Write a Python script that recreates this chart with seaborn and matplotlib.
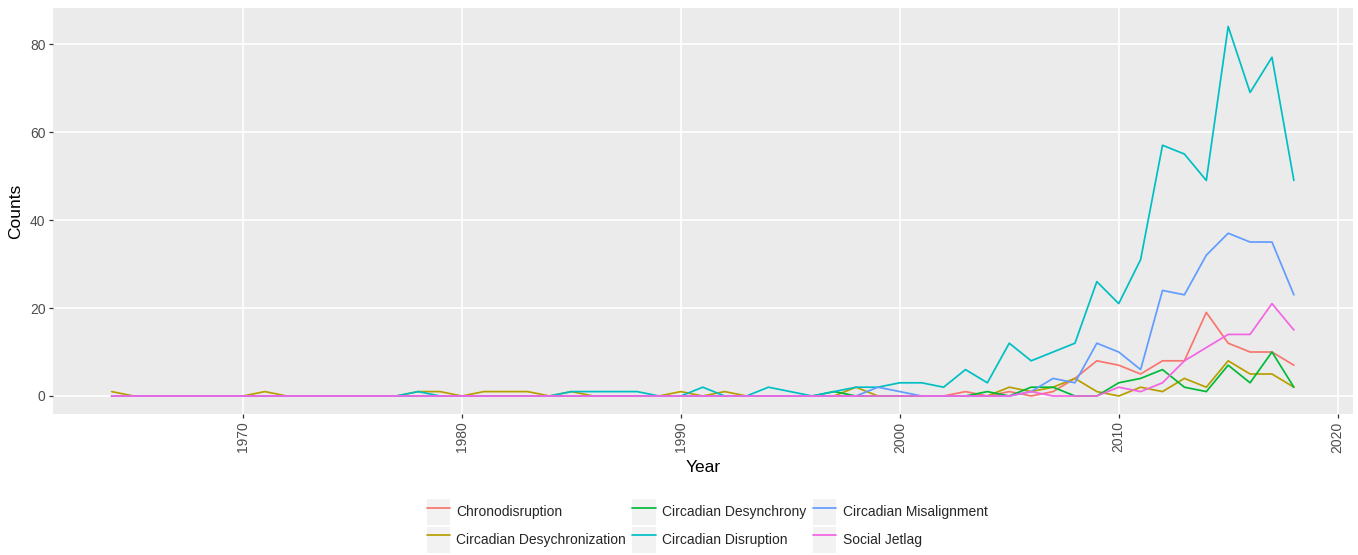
import matplotlib
matplotlib.use('Agg')
import matplotlib.pyplot as plt
from matplotlib.legend_handler import HandlerLine2D
from matplotlib.lines import Line2D
from matplotlib.patches import Rectangle
import pandas as pd
import seaborn as sns

# donnees (1964 -> 2018)
years = list(range(1964, 2019))

chronodisruption = [0, 0, 0, 0, 0, 0,
                    0, 0, 0, 0, 0, 0, 0, 0, 0, 0,
                    0, 0, 0, 0, 0, 0, 0, 0, 0, 0,
                    0, 0, 0, 0, 0, 0, 0, 0, 0, 0,
                    0, 0, 0, 1, 0, 1, 0, 1, 4, 8,
                    7, 5, 8, 8, 19, 12, 10, 10, 7]

desychronization = [1, 0, 0, 0, 0, 0,
                    0, 1, 0, 0, 0, 0, 0, 0, 1, 1,
                    0, 1, 1, 1, 0, 1, 0, 0, 0, 0,
                    1, 0, 1, 0, 0, 0, 0, 0, 2, 0,
                    0, 0, 0, 0, 0, 2, 1, 2, 4, 1,
                    0, 2, 1, 4, 2, 8, 5, 5, 2]

desynchrony = [0, 0, 0, 0, 0, 0,
               0, 0, 0, 0, 0, 0, 0, 0, 0, 0,
               0, 0, 0, 0, 0, 0, 0, 0, 0, 0,
               0, 0, 0, 0, 0, 0, 0, 1, 0, 0,
               0, 0, 0, 0, 1, 0, 2, 2, 0, 0,
               3, 4, 6, 2, 1, 7, 3, 10, 2]

disruption = [0, 0, 0, 0, 0, 0,
              0, 0, 0, 0, 0, 0, 0, 0, 1, 0,
              0, 0, 0, 0, 0, 1, 1, 1, 1, 0,
              0, 2, 0, 0, 2, 1, 0, 1, 2, 2,
              3, 3, 2, 6, 3, 12, 8, 10, 12, 26,
              21, 31, 57, 55, 49, 84, 69, 77, 49]

misalignment = [0, 0, 0, 0, 0, 0,
                0, 0, 0, 0, 0, 0, 0, 0, 0, 0,
                0, 0, 0, 0, 0, 0, 0, 0, 0, 0,
                0, 0, 0, 0, 0, 0, 0, 0, 0, 2,
                1, 0, 0, 0, 0, 0, 1, 4, 3, 12,
                10, 6, 24, 23, 32, 37, 35, 35, 23]

social_jetlag = [0, 0, 0, 0, 0, 0,
                 0, 0, 0, 0, 0, 0, 0, 0, 0, 0,
                 0, 0, 0, 0, 0, 0, 0, 0, 0, 0,
                 0, 0, 0, 0, 0, 0, 0, 0, 0, 0,
                 0, 0, 0, 0, 0, 0, 1, 0, 0, 0,
                 2, 1, 3, 8, 11, 14, 14, 21, 15]

terms = ['Chronodisruption', 'Circadian Desychronization', 'Circadian Desynchrony',
         'Circadian Disruption', 'Circadian Misalignment', 'Social Jetlag']
series = [chronodisruption, desychronization, desynchrony,
          disruption, misalignment, social_jetlag]
colors = ['#F8766D', '#B79F00', '#00BA38', '#00BFC4', '#619CFF', '#F564E3']

x_ticks = [1970, 1980, 1990, 2000, 2010, 2020]
y_ticks = [0, 20, 40, 60, 80]

# tableau long pour seaborn
df = pd.DataFrame({
    'Year': years * len(terms),
    'Counts': [v for s in series for v in s],
    'Term': [t for t in terms for _ in years],
})

sns.set_theme(style='darkgrid', rc={'axes.facecolor': '#EBEBEB',
                                    'grid.color': 'white',
                                    'figure.facecolor': 'white'})
plt.rcParams['font.family'] = ['Liberation Sans', 'DejaVu Sans']

fig = plt.figure(figsize=(13.58, 5.55), dpi=100)
ax = fig.add_axes([0.0387, 0.2532, 0.9576, 0.7324])

sns.lineplot(data=df, x='Year', y='Counts', hue='Term', hue_order=terms,
             palette=colors, linewidth=1.25, legend=False, ax=ax)

ax.set_xlim(1961.3, 2020.7)
ax.set_ylim(-4.2, 88.2)
ax.set_xticks(x_ticks)
ax.set_yticks(y_ticks)
ax.set_xticklabels([str(t) for t in x_ticks], rotation=90)
ax.grid(which='major', color='white', linewidth=1.2)
for sp in ax.spines.values():
    sp.set_visible(False)
ax.tick_params(axis='both', bottom=True, left=True, direction='out', length=3,
               width=0.9, color='#333333', labelcolor='#4D4D4D', labelsize=10, pad=2)
ax.set_xlabel('Year', fontsize=12.5, color='black', labelpad=5)
ax.set_ylabel('Counts', fontsize=12.5, color='black', labelpad=5)


# cle de legende avec fond gris facon ggplot
class KeyHandler(HandlerLine2D):
    def create_artists(self, legend, orig_handle, xdescent, ydescent,
                       width, height, fontsize, trans):
        bg = Rectangle((-xdescent, -ydescent), width, height, transform=trans,
                       facecolor='#F2F2F2', edgecolor='none')
        arts = super().create_artists(legend, orig_handle, xdescent, ydescent,
                                      width, height, fontsize, trans)
        return [bg] + list(arts)


handles = [Line2D([], [], color=c, linewidth=1.25) for c in colors]
fig.legend(handles, terms, loc='center', bbox_to_anchor=(707 / 1358, 1 - 526 / 555),
           ncol=3, frameon=False, fontsize=10,
           handler_map={Line2D: KeyHandler(marker_pad=0.15)},
           handlelength=1.7, handleheight=2.5, labelspacing=0.12,
           columnspacing=0.45, handletextpad=0.45, borderpad=0)

fig.savefig('out.png', dpi=100)
